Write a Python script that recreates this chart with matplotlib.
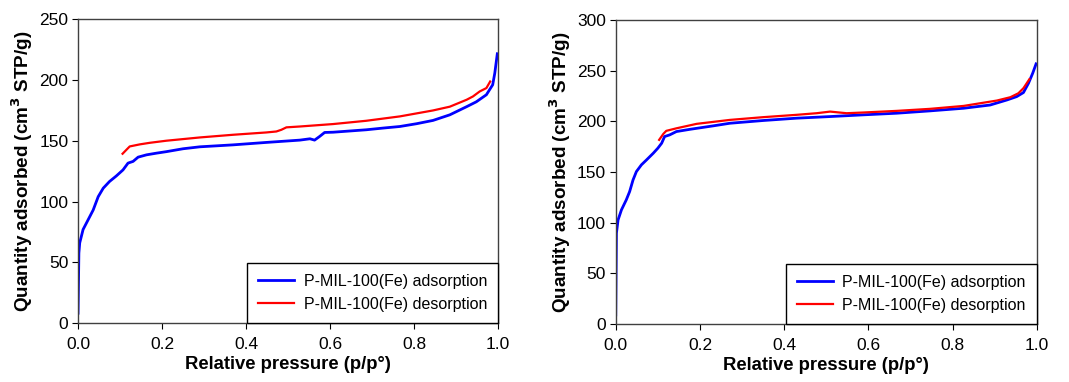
import matplotlib.pyplot as plt
import numpy as np

plt.rcParams['font.family'] = ['Liberation Sans', 'DejaVu Sans']

# left panel: adsorption / desorption
ads1_x = [0.0, 0.002, 0.004, 0.012, 0.024, 0.036, 0.048, 0.06, 0.075, 0.091, 0.107, 0.119,
          0.131, 0.143, 0.163, 0.187, 0.21, 0.25, 0.29, 0.369, 0.448, 0.528, 0.552, 0.563,
          0.575, 0.587, 0.607, 0.686, 0.726, 0.766, 0.806, 0.845, 0.885, 0.925, 0.948,
          0.972, 0.987, 0.992, 0.998]
ads1_y = [8.2, 57.6, 66, 77, 85, 93, 104, 111, 116.5, 121, 126, 131.6,
          133, 136.5, 138.4, 139.8, 141, 143.4, 145, 146.6, 148.6, 150.5, 151.6, 150.5,
          153.5, 156.8, 157, 159, 160.4, 161.7, 164, 166.7, 171.3, 178, 182,
          187.8, 196, 205.6, 221.5]
des1_x = [0.106, 0.115, 0.123, 0.147, 0.171, 0.21, 0.29, 0.369, 0.448, 0.472, 0.484, 0.496,
          0.528, 0.607, 0.686, 0.766, 0.845, 0.885, 0.925, 0.94, 0.956, 0.972, 0.981]
des1_y = [139.3, 142.5, 145.3, 147, 148.3, 150, 152.7, 154.9, 156.8, 157.6, 159, 161,
          161.7, 163.7, 166.4, 170, 174.9, 178, 183.7, 186.4, 190.5, 193.3, 198.7]

# right panel
ads2_x = [0.0, 0.0016, 0.0055, 0.0135, 0.025, 0.033, 0.041, 0.049, 0.061, 0.073, 0.089, 0.1,
          0.109, 0.116, 0.128, 0.144, 0.176, 0.231, 0.271, 0.35, 0.429, 0.509, 0.588, 0.667,
          0.746, 0.826, 0.889, 0.929, 0.952, 0.968, 0.98, 0.99, 0.998]
ads2_y = [8.9, 89.5, 102.6, 112.5, 122.4, 130.6, 142, 150.3, 157, 161.8, 168.4, 173.4,
          178.3, 184.9, 186.5, 189.8, 192, 195.4, 198, 200.7, 203, 204.6, 206.3, 207.9,
          210.2, 212.8, 216, 221, 224.3, 228.3, 237.5, 247.4, 256.6]
des2_x = [0.103, 0.113, 0.12, 0.144, 0.192, 0.271, 0.35, 0.429, 0.477, 0.509, 0.548, 0.588,
          0.667, 0.746, 0.826, 0.905, 0.937, 0.956, 0.968, 0.982]
des2_y = [181.6, 187.5, 190.5, 193, 197.4, 201.3, 204, 206.3, 207.9, 209.5, 207.9, 208.6,
          210.2, 212.2, 215.1, 220.4, 223.7, 227.6, 232.6, 241.4]

label_ads = 'P-MIL-100(Fe) adsorption'
label_des = 'P-MIL-100(Fe) desorption'

fig = plt.figure(figsize=(10.69, 3.82), dpi=100)
ax1 = fig.add_axes([0.073, 0.154, 0.393, 0.796])
ax2 = fig.add_axes([0.576, 0.152, 0.394, 0.796])

panels = [(ax1, ads1_x, ads1_y, des1_x, des1_y, 250),
          (ax2, ads2_x, ads2_y, des2_x, des2_y, 300)]

for ax, ax_x, ax_y, dx, dy, ymax in panels:
    ax.plot(ax_x, ax_y, color='#0000ff', lw=2.0, label=label_ads)
    ax.plot(dx, dy, color='#ff0000', lw=1.6, label=label_des)
    ax.set_xlim(0, 1)
    ax.set_ylim(0, ymax)
    ax.set_xticks(np.arange(0, 1.01, 0.2))
    ax.set_xticklabels(['%.1f' % v for v in np.arange(0, 1.01, 0.2)])
    ax.set_yticks(np.arange(0, ymax + 1, 50))
    ax.tick_params(labelsize=12.5, direction='out', length=4, color='black')
    ax.tick_params(axis='x', pad=6)
    ax.tick_params(axis='y', pad=3)
    for s in ax.spines.values():
        s.set_color('#404040')
        s.set_linewidth(1.0)
    ax.set_xlabel('Relative pressure (p/p°)', fontsize=13.3, fontweight='bold', labelpad=3)
    ax.set_ylabel('Quantity adsorbed (cm$^\\mathbf{3}$ STP/g)', fontsize=13.6,
                  fontweight='bold', labelpad=3)
    leg = ax.legend(loc='lower right', bbox_to_anchor=(1.0, 0.0), borderaxespad=0,
                    fontsize=11.5, fancybox=False, edgecolor='black', framealpha=1,
                    handlelength=2.25, handletextpad=0.6, borderpad=0.7,
                    labelspacing=0.5)
    leg.get_frame().set_linewidth(1.0)

fig.savefig('out.png', dpi=100)
